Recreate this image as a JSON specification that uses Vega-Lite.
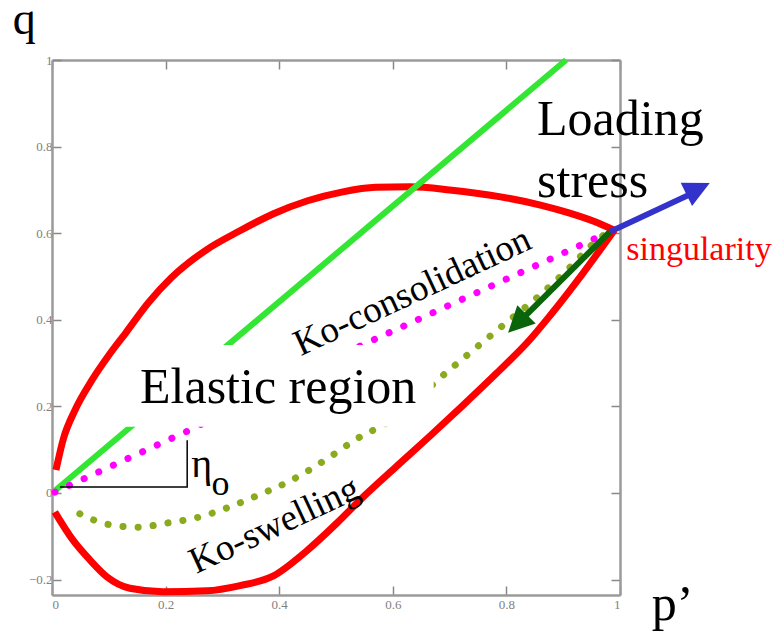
{
  "$schema": "https://vega.github.io/schema/vega-lite/v6.json",
  "width": 568,
  "height": 535,
  "autosize": {"type": "none"},
  "padding": {"left": 52, "top": 60, "right": 154, "bottom": 39},
  "background": "white",
  "config": {
    "view": {"stroke": null},
    "axis": {
      "domainColor": "#9a9a9a", "domainWidth": 2.5,
      "tickColor": "#888888", "tickWidth": 1.5, "tickSize": -9,
      "labelFont": "Liberation Serif", "labelFontSize": 13, "labelColor": "#808080",
      "grid": false, "title": null, "zindex": 1
    }
  },
  "datasets": {
    "red": [
      {"b": "u", "p": 0.007, "q": 0.053}, {"b": "u", "p": 0.02, "q": 0.125}, {"b": "u", "p": 0.04, "q": 0.19},
      {"b": "u", "p": 0.07, "q": 0.26}, {"b": "u", "p": 0.10, "q": 0.318}, {"b": "u", "p": 0.13, "q": 0.37},
      {"b": "u", "p": 0.17, "q": 0.44}, {"b": "u", "p": 0.21, "q": 0.497}, {"b": "u", "p": 0.27, "q": 0.56},
      {"b": "u", "p": 0.33, "q": 0.605}, {"b": "u", "p": 0.39, "q": 0.645}, {"b": "u", "p": 0.45, "q": 0.675},
      {"b": "u", "p": 0.51, "q": 0.695}, {"b": "u", "p": 0.57, "q": 0.706}, {"b": "u", "p": 0.63, "q": 0.707},
      {"b": "u", "p": 0.70, "q": 0.700}, {"b": "u", "p": 0.79, "q": 0.684}, {"b": "u", "p": 0.86, "q": 0.665},
      {"b": "u", "p": 0.91, "q": 0.647}, {"b": "u", "p": 0.955, "q": 0.627}, {"b": "u", "p": 0.99, "q": 0.607},
      {"b": "l", "p": 0.005, "q": -0.044}, {"b": "l", "p": 0.037, "q": -0.109}, {"b": "l", "p": 0.067, "q": -0.155},
      {"b": "l", "p": 0.097, "q": -0.194}, {"b": "l", "p": 0.137, "q": -0.220}, {"b": "l", "p": 0.195, "q": -0.228},
      {"b": "l", "p": 0.273, "q": -0.226}, {"b": "l", "p": 0.331, "q": -0.214}, {"b": "l", "p": 0.389, "q": -0.192},
      {"b": "l", "p": 0.449, "q": -0.133}, {"b": "l", "p": 0.502, "q": -0.069}, {"b": "l", "p": 0.548, "q": -0.009},
      {"b": "l", "p": 0.607, "q": 0.062}, {"b": "l", "p": 0.665, "q": 0.131}, {"b": "l", "p": 0.724, "q": 0.203},
      {"b": "l", "p": 0.783, "q": 0.277}, {"b": "l", "p": 0.842, "q": 0.355}, {"b": "l", "p": 0.877, "q": 0.41},
      {"b": "l", "p": 0.935, "q": 0.508}, {"b": "l", "p": 0.99, "q": 0.607}
    ],
    "csl": [{"p": 0.005, "q": 0.005}, {"p": 0.905, "q": 1.0}],
    "kocons": [{"p": 0.005, "q": 0.002}, {"p": 0.237, "q": 0.142}, {"p": 0.54, "q": 0.338}, {"p": 0.97, "q": 0.596}],
    "koswell": [
      {"p": 0.049, "q": -0.048}, {"p": 0.097, "q": -0.072}, {"p": 0.150, "q": -0.079}, {"p": 0.204, "q": -0.069},
      {"p": 0.261, "q": -0.055}, {"p": 0.313, "q": -0.032}, {"p": 0.363, "q": -0.005}, {"p": 0.415, "q": 0.025},
      {"p": 0.489, "q": 0.083}, {"p": 0.539, "q": 0.127}, {"p": 0.590, "q": 0.162}, {"p": 0.695, "q": 0.279},
      {"p": 0.759, "q": 0.349}, {"p": 0.806, "q": 0.400}, {"p": 0.859, "q": 0.457}, {"p": 0.907, "q": 0.515},
      {"p": 0.960, "q": 0.584}, {"p": 0.978, "q": 0.602}
    ],
    "eta": [{"i": 1, "p": 0.014, "q": 0.014}, {"i": 2, "p": 0.238, "q": 0.014}, {"i": 3, "p": 0.238, "q": 0.122}],
    "box": [{"p": 0.127, "p2": 0.672, "q": 0.153, "q2": 0.342}],
    "qlab": [{"t": "q", "p": -0.069, "q": 1.06}],
    "big": [
      {"t": "p’", "p": 1.056, "q": -0.293},
      {"t": "Loading", "p": 0.854, "q": 0.827},
      {"t": "stress", "p": 0.854, "q": 0.684},
      {"t": "Elastic region", "p": 0.155, "q": 0.208}
    ],
    "rot": [
      {"t": "Ko-consolidation", "p": 0.643, "q": 0.441},
      {"t": "Ko-swelling", "p": 0.400, "q": -0.098}
    ],
    "sing": [{"t": "singularity", "p": 1.011, "q": 0.538}],
    "etaT": [{"t": "η", "p": 0.245, "q": 0.037}],
    "etaO": [{"t": "o", "p": 0.281, "q": -0.004}],
    "blue": [{"p": 0.982, "q": 0.603}, {"p": 1.127, "q": 0.692}],
    "blueTip": [{"p": 1.158, "q": 0.716}],
    "dkg": [{"p": 0.982, "q": 0.603}, {"p": 0.828, "q": 0.402}],
    "dkgTip": [{"p": 0.803, "q": 0.370}]
  },
  "resolve": {"axis": {"x": "independent", "y": "independent"}},
  "layer": [
    {
      "data": {"name": "red"},
      "mark": {"type": "line", "color": "#ff0000", "strokeWidth": 7, "interpolate": "monotone"},
      "encoding": {
        "x": {"field": "p", "type": "quantitative", "scale": {"domain": [0, 1], "nice": false, "zero": false},
              "axis": {"orient": "bottom", "values": [0, 0.2, 0.4, 0.6, 0.8, 1], "format": ".1~f", "labelPadding": 12}},
        "y": {"field": "q", "type": "quantitative", "scale": {"domain": [-0.2356, 1], "nice": false, "zero": false},
              "axis": {"orient": "left", "values": [-0.2, 0, 0.2, 0.4, 0.6, 0.8, 1], "format": ".1~f", "labelPadding": 9}},
        "detail": {"field": "b"}
      }
    },
    {
      "data": {"name": "csl"},
      "mark": {"type": "line", "color": "#33e633", "strokeWidth": 6},
      "encoding": {
        "x": {"field": "p", "type": "quantitative", "scale": {"domain": [0, 1], "nice": false, "zero": false}, "axis": null},
        "y": {"field": "q", "type": "quantitative", "scale": {"domain": [-0.2356, 1], "nice": false, "zero": false}, "axis": null}
      }
    },
    {
      "data": {"name": "kocons"},
      "mark": {"type": "line", "color": "#ff00ff", "strokeWidth": 7, "strokeCap": "round", "strokeDash": [0.1, 16]},
      "encoding": {
        "x": {"field": "p", "type": "quantitative", "axis": null},
        "y": {"field": "q", "type": "quantitative", "axis": null}
      }
    },
    {
      "data": {"name": "koswell"},
      "mark": {"type": "line", "color": "#8aab1e", "strokeWidth": 7, "strokeCap": "round", "strokeDash": [0.1, 15], "interpolate": "monotone"},
      "encoding": {
        "x": {"field": "p", "type": "quantitative", "axis": null},
        "y": {"field": "q", "type": "quantitative", "axis": null}
      }
    },
    {
      "data": {"name": "eta"},
      "mark": {"type": "line", "color": "#000000", "strokeWidth": 1.5},
      "encoding": {
        "x": {"field": "p", "type": "quantitative",
              "axis": {"orient": "top", "values": [0, 0.2, 0.4, 0.6, 0.8, 1], "labels": false}},
        "y": {"field": "q", "type": "quantitative",
              "axis": {"orient": "right", "values": [-0.2, 0, 0.2, 0.4, 0.6, 0.8, 1], "labels": false}},
        "order": {"field": "i"}
      }
    },
    {
      "data": {"name": "box"},
      "mark": {"type": "rect", "fill": "#ffffff"},
      "encoding": {
        "x": {"field": "p", "type": "quantitative", "axis": null},
        "x2": {"field": "p2"},
        "y": {"field": "q", "type": "quantitative", "axis": null},
        "y2": {"field": "q2"}
      }
    },
    {
      "data": {"name": "qlab"},
      "mark": {"type": "text", "font": "Liberation Serif", "fontSize": 46, "align": "left", "baseline": "alphabetic", "color": "#000000"},
      "encoding": {
        "x": {"field": "p", "type": "quantitative", "axis": null},
        "y": {"field": "q", "type": "quantitative", "axis": null},
        "text": {"field": "t"}
      }
    },
    {
      "data": {"name": "big"},
      "mark": {"type": "text", "font": "Liberation Serif", "fontSize": 50, "align": "left", "baseline": "alphabetic", "color": "#000000"},
      "encoding": {
        "x": {"field": "p", "type": "quantitative", "axis": null},
        "y": {"field": "q", "type": "quantitative", "axis": null},
        "text": {"field": "t"}
      }
    },
    {
      "data": {"name": "rot"},
      "mark": {"type": "text", "font": "Liberation Serif", "fontSize": 37, "align": "center", "baseline": "alphabetic", "angle": -25, "color": "#000000"},
      "encoding": {
        "x": {"field": "p", "type": "quantitative", "axis": null},
        "y": {"field": "q", "type": "quantitative", "axis": null},
        "text": {"field": "t"}
      }
    },
    {
      "data": {"name": "sing"},
      "mark": {"type": "text", "font": "Liberation Serif", "fontSize": 34, "align": "left", "baseline": "alphabetic", "color": "#ff0000"},
      "encoding": {
        "x": {"field": "p", "type": "quantitative", "axis": null},
        "y": {"field": "q", "type": "quantitative", "axis": null},
        "text": {"field": "t"}
      }
    },
    {
      "data": {"name": "etaT"},
      "mark": {"type": "text", "font": "Liberation Serif", "fontSize": 40, "align": "left", "baseline": "alphabetic", "color": "#000000"},
      "encoding": {
        "x": {"field": "p", "type": "quantitative", "axis": null},
        "y": {"field": "q", "type": "quantitative", "axis": null},
        "text": {"field": "t"}
      }
    },
    {
      "data": {"name": "etaO"},
      "mark": {"type": "text", "font": "Liberation Serif", "fontSize": 36, "align": "left", "baseline": "alphabetic", "color": "#000000"},
      "encoding": {
        "x": {"field": "p", "type": "quantitative", "axis": null},
        "y": {"field": "q", "type": "quantitative", "axis": null},
        "text": {"field": "t"}
      }
    },
    {
      "data": {"name": "blue"},
      "mark": {"type": "line", "color": "#3333cc", "strokeWidth": 6},
      "encoding": {
        "x": {"field": "p", "type": "quantitative", "axis": null},
        "y": {"field": "q", "type": "quantitative", "axis": null}
      }
    },
    {
      "data": {"name": "blueTip"},
      "mark": {"type": "point", "shape": "M0,0L1,2L-1,2Z", "size": 676, "angle": 64, "filled": true, "opacity": 1, "color": "#3333cc"},
      "encoding": {
        "x": {"field": "p", "type": "quantitative", "axis": null},
        "y": {"field": "q", "type": "quantitative", "axis": null}
      }
    },
    {
      "data": {"name": "dkg"},
      "mark": {"type": "line", "color": "#0a640a", "strokeWidth": 6},
      "encoding": {
        "x": {"field": "p", "type": "quantitative", "axis": null},
        "y": {"field": "q", "type": "quantitative", "axis": null}
      }
    },
    {
      "data": {"name": "dkgTip"},
      "mark": {"type": "point", "shape": "M0,0L1,2L-1,2Z", "size": 676, "angle": 225, "filled": true, "opacity": 1, "color": "#0a640a"},
      "encoding": {
        "x": {"field": "p", "type": "quantitative", "axis": null},
        "y": {"field": "q", "type": "quantitative", "axis": null}
      }
    }
  ]
}
